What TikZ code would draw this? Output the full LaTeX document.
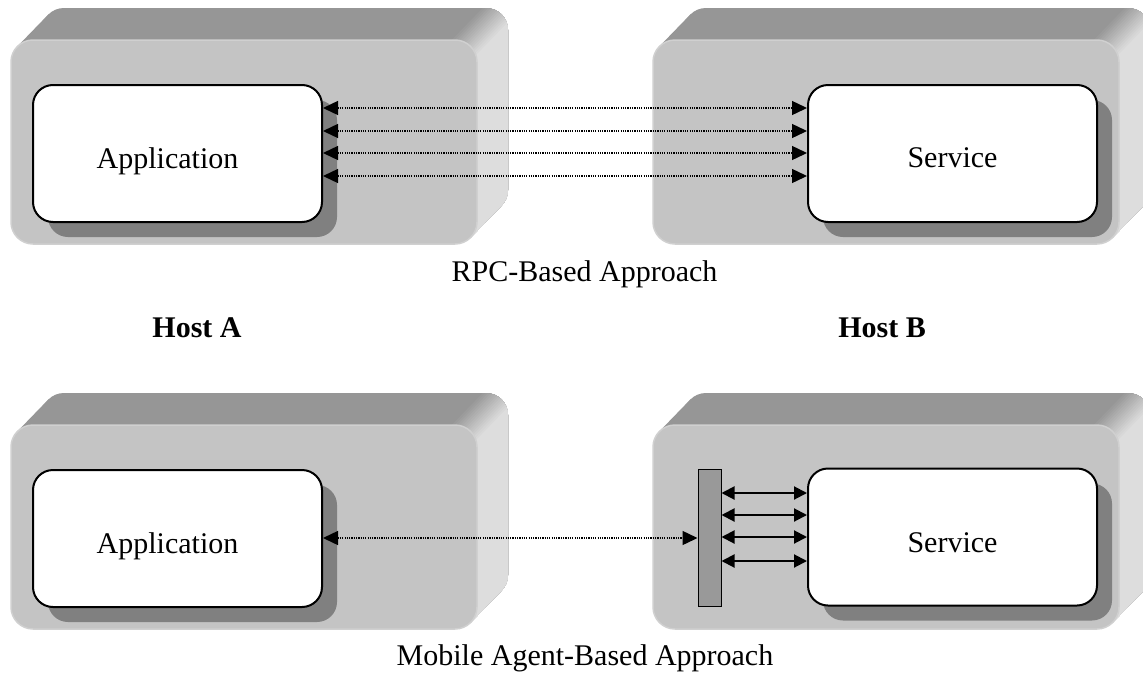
\documentclass[tikz,border=0pt]{standalone}
\usepackage{fontspec}
\setmainfont{Liberation Serif}
\usetikzlibrary{arrows.meta,shadows}
\definecolor{topgray}{HTML}{969696}
\definecolor{rightgray}{HTML}{DDDDDD}
\definecolor{frontgray}{HTML}{C4C4C4}
\definecolor{frontedge}{HTML}{D0D0D0}
\definecolor{shadowgray}{HTML}{808080}
\definecolor{bargray}{HTML}{999999}
\newcommand{\hostbody}{%
  \fill[topgray,rounded corners=22pt] (42,8) rectangle (508,212);
  \fill[topgray] (17.4,46.4) -- (48.4,14.4) -- (501.6,205.6) -- (470.6,237.6) -- cycle;
  \foreach \s in {-20,-18,...,10}{%
    \pgfmathsetmacro{\p}{(\s+20)/30*100}%
    \begin{scope}
      \clip[shift={(\s*0.7071,\s*0.7071)}] (284.6,238.4) -- (563.6,-49.6) -- (775.7,162.5) -- (496.7,450.5) -- cycle;
      \fill[rightgray!\p!topgray,rounded corners=22pt] (42,8) rectangle (508,212);
      \fill[rightgray!\p!topgray] (17.4,46.4) -- (48.4,14.4) -- (501.6,205.6) -- (470.6,237.6) -- cycle;
    \end{scope}}
  \fill[frontgray,draw=frontedge,line width=1.5pt,rounded corners=22pt] (11,40) rectangle (477,244);
}
\begin{document}
\begin{tikzpicture}[x=1pt,y=-1pt,
  innerbox/.style={draw=black,line width=2pt,fill=white,rounded corners=20pt,
    minimum width=289pt,minimum height=137pt,inner sep=0pt,
    drop shadow={shadow xshift=15pt,shadow yshift=-15pt,fill=shadowgray,opacity=1}},
  lbl/.style={font=\fontsize{30}{36}\selectfont,inner sep=0pt,anchor=base},
  hostlbl/.style={lbl,font=\fontsize{30}{36}\selectfont\bfseries},
  agentbar/.style={draw=black,line width=1pt,fill=bargray,minimum width=23pt,minimum height=137pt,inner sep=0pt},
  dotarrow/.style={line width=1.4pt,dash pattern=on 1.2pt off 1.1pt,
    {Triangle[length=15pt,width=14pt]}-{Triangle[length=15pt,width=14pt]}},
  solidarrow/.style={line width=2pt,
    {Triangle[length=13pt,width=13pt]}-{Triangle[length=13pt,width=13pt]}}]
\useasboundingbox (0,0) rectangle (1143,672);
\clip (0,0) rectangle (1143,672);
\fill[white] (0,0) rectangle (1143,672);
% hosts
\begin{scope}\hostbody\end{scope}
\begin{scope}[shift={(642,0)}]\hostbody\end{scope}
\begin{scope}[shift={(0,385)}]\hostbody\end{scope}
\begin{scope}[shift={(642,385)}]\hostbody\end{scope}
% inner boxes
\node[innerbox] (app1) at (177.5,153.5) {};
\node[innerbox] (srv1) at (952.5,153.5) {};
\node[innerbox] (app2) at (177.5,538.5) {};
\node[innerbox] (srv2) at (952.5,537) {};
\node[lbl] (tapp1) at (167.5,168) {Application};
\node[lbl] (tsrv1) at (952.5,167) {Service};
\node[lbl] (tapp2) at (167.5,553) {Application};
\node[lbl] (tsrv2) at (952.5,552) {Service};
% agent bar
\node[agentbar] (bar) at (709.5,537.5) {};
% levels
\coordinate (y1) at (0,108);
\coordinate (y2) at (0,131);
\coordinate (y3) at (0,153);
\coordinate (y4) at (0,176);
\coordinate (z1) at (0,493);
\coordinate (z2) at (0,515);
\coordinate (z3) at (0,537);
\coordinate (z4) at (0,561);
\coordinate (zm) at (0,538);
% RPC arrows
\foreach \y in {y1,y2,y3,y4}{\draw[dotarrow] (app1.east |- \y) -- (srv1.west |- \y);}
% agent arrows
\draw[dotarrow] (app2.east |- zm) -- (bar.west |- zm);
\foreach \z in {z1,z2,z3,z4}{\draw[solidarrow] (bar.east |- \z) -- (srv2.west |- \z);}
% captions
\node[lbl] (cap1) at (584.5,281) {RPC-Based Approach};
\node[hostlbl] (ha) at (197,337) {Host A};
\node[hostlbl] (hb) at (882,337) {Host B};
\node[lbl] (cap2) at (585,665) {Mobile Agent-Based Approach};
\end{tikzpicture}
\end{document}
